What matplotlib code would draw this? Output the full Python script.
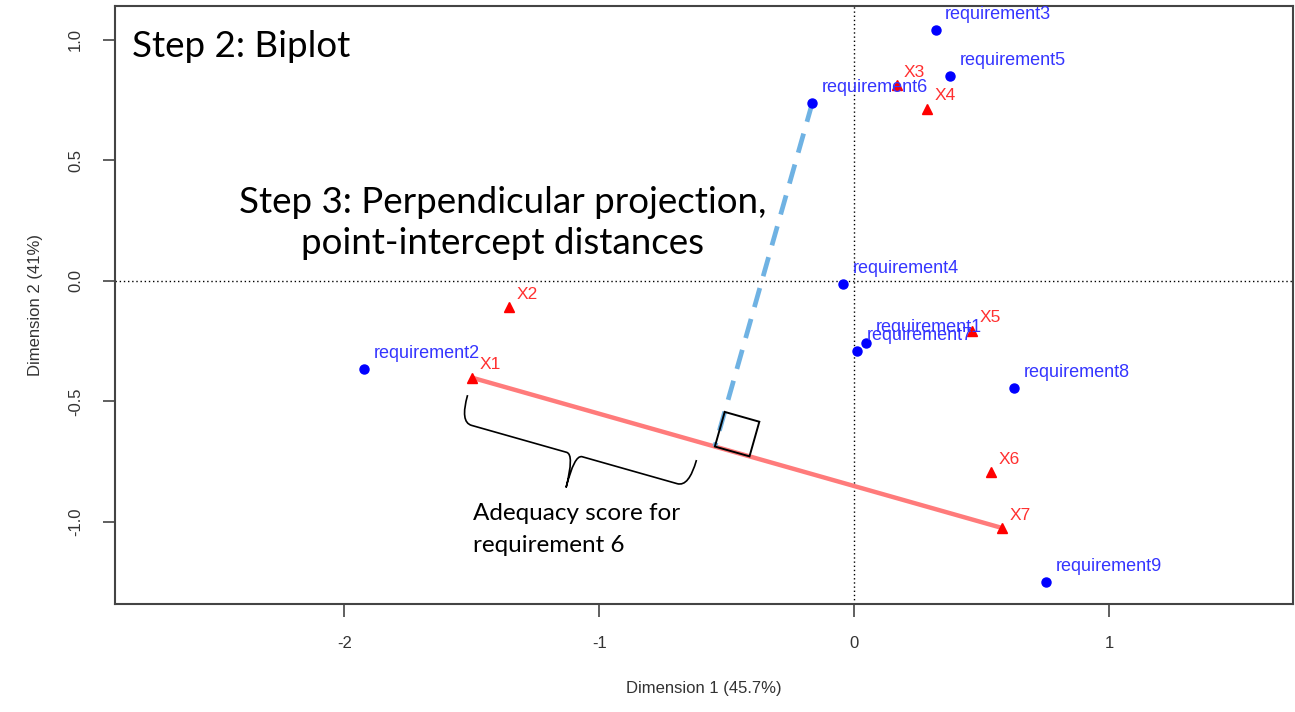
import numpy as np
import matplotlib.pyplot as plt
from matplotlib.path import Path
from matplotlib.patches import PathPatch, Polygon

# requirement points (blue) and X points (red)
req_names = ["requirement1", "requirement2", "requirement3", "requirement4", "requirement5",
             "requirement6", "requirement7", "requirement8", "requirement9"]
req_x = [0.047, -1.922, 0.318, -0.043, 0.376, -0.165, 0.012, 0.627, 0.753]
req_y = [-0.257, -0.365, 1.041, -0.012, 0.851, 0.739, -0.290, -0.444, -1.249]

x_names = ["X1", "X2", "X3", "X4", "X5", "X6", "X7"]
x_x = [-1.498, -1.353, 0.165, 0.286, 0.463, 0.537, 0.580]
x_y = [-0.402, -0.108, 0.813, 0.714, -0.207, -0.793, -1.025]

xticks = [-2, -1, 0, 1]
yticks = [-1.0, -0.5, 0.0, 0.5, 1.0]

fig = plt.figure(figsize=(12.95, 7.12), dpi=100)
ax = fig.add_axes([115 / 1295, 108 / 712, 1178 / 1295, 598 / 712])
ax.set_xlim(-2.90, 1.72)
ax.set_ylim(-1.34, 1.14)

ax.axvline(0, color="black", ls=(0, (1, 2)), lw=1.0, zorder=1)
ax.axhline(0, color="black", ls=(0, (1, 2)), lw=1.0, zorder=1)

# display-space helpers (dpi 100 -> display px == image px)
to_px = ax.transData.transform
to_data = ax.transData.inverted().transform

p1 = to_px((x_x[0], x_y[0]))
p7 = to_px((x_x[6], x_y[6]))
p6 = to_px((req_x[5], req_y[5]))
u = (p7 - p1) / np.linalg.norm(p7 - p1)
n_up = np.array([-u[1], u[0]])
n_dn = -n_up
t_foot = np.dot(p6 - p1, u)
foot = p1 + t_foot * u

# red line X1 -> X7
ax.plot([x_x[0], x_x[6]], [x_y[0], x_y[6]], color="#ff7b7b", lw=3.2, zorder=2,
        solid_capstyle="butt")

# dashed perpendicular projection
fd = to_data(foot)
ax.plot([req_x[5], fd[0]], [req_y[5], fd[1]], color="#6fb2e3", lw=3.4,
        dashes=(4.2, 2.6), zorder=2)

# right-angle square
s = 36
sq = np.array([foot, foot + s * u, foot + s * u + s * n_up, foot + s * n_up])
ax.add_patch(Polygon(to_data(sq), closed=True, fill=False, ec="black", lw=1.4, zorder=3))

# curly brace under the red line
L = t_foot - 14
def tn(t, n):
    return p1 + t * u + n * n_dn

bp = [(0, 18), (0, 46), (12, 46), (L / 2 - 8, 46), (L / 2, 46), (L / 2 + 1, 80),
      (L / 2, 46), (L / 2 + 8, 46), (L - 12, 46), (L, 46), (L, 18)]
codes = [Path.MOVETO, Path.CURVE3, Path.CURVE3, Path.LINETO, Path.CURVE3, Path.CURVE3,
         Path.CURVE3, Path.CURVE3, Path.LINETO, Path.CURVE3, Path.CURVE3]
verts = to_data(np.array([tn(t, n) for t, n in bp]))
ax.add_patch(PathPatch(Path(verts, codes), fill=False, ec="black", lw=1.2, zorder=3))

# points
ax.plot(req_x, req_y, "o", color="blue", ms=6.5, zorder=4)
ax.plot(x_x, x_y, "^", color="red", ms=7.5, zorder=4)
for name, x, y in zip(req_names, req_x, req_y):
    ax.annotate(name, (x, y), xytext=(7, 8), textcoords="offset points",
                color="#3535ff", fontsize=13, family="Liberation Sans", zorder=5)
for name, x, y in zip(x_names, x_x, x_y):
    ax.annotate(name, (x, y), xytext=(5, 6), textcoords="offset points",
                color="#ff3030", fontsize=12.5, family="Liberation Sans", zorder=5)

# overlay texts
ax.text(-2.835, 0.971, "Step 2: Biplot", family="Lato", fontsize=26.5,
        va="center", ha="left")
ax.text(-1.38, 0.24, "Step 3: Perpendicular projection,\npoint-intercept distances",
        family="Lato", fontsize=26.5, ha="center", va="center", linespacing=1.3)
ax.text(-1.495, -1.031, "Adequacy score for\nrequirement 6", family="Lato", fontsize=17.5,
        ha="left", va="center", linespacing=1.7)

ax.set_xticks(xticks)
ax.set_xticklabels(["-2", "-1", "0", "1"])
ax.set_yticks(yticks)
ax.set_yticklabels(["-1.0", "-0.5", "0.0", "0.5", "1.0"], rotation=90, va="center")
ax.tick_params(length=9, width=1.2, color="#444444", labelsize=12, labelcolor="#333333",
               pad=14)
for lab in ax.get_xticklabels() + ax.get_yticklabels():
    lab.set_family("Liberation Sans")
for sp in ax.spines.values():
    sp.set_color("#444444")
    sp.set_linewidth(1.5)

ax.set_xlabel("Dimension 1 (45.7%)", family="Liberation Sans", fontsize=12,
              color="#333333", labelpad=22)
ax.set_ylabel("Dimension 2 (41%)", family="Liberation Sans", fontsize=12,
              color="#333333", labelpad=18)

fig.savefig("out.png", dpi=100)
